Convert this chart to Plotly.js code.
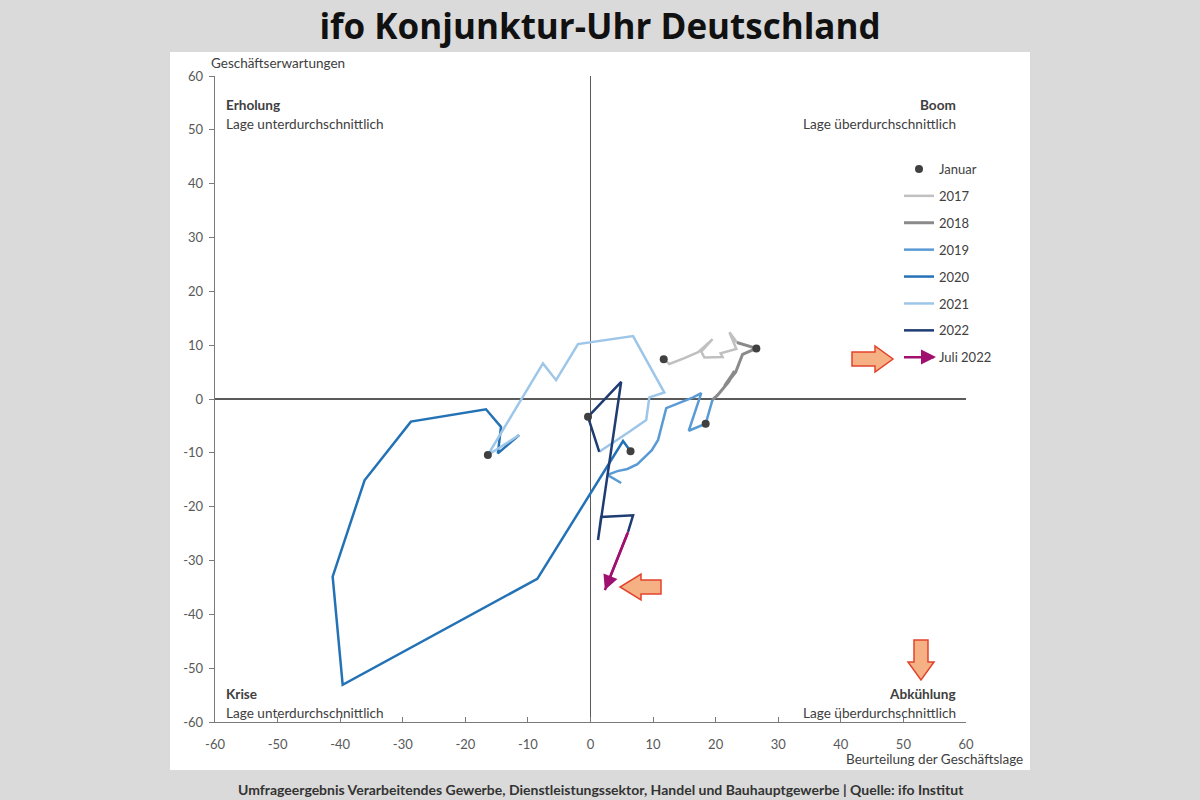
<!DOCTYPE html>
<html><head><meta charset="utf-8">
<script src="https://cdn.plot.ly/plotly-3.0.1.min.js"></script>
<style>html,body{margin:0;padding:0;background:#dadada;} #chart{width:1200px;height:800px;}</style>
</head><body><div id="chart"></div>
<script>
// ---------- DATA (Geschäftslage = x, Geschäftserwartungen = y), monthly, starting January ----------
const years = ['2017', '2018', '2019', '2020', '2021', '2022'];
const lage2017 = [11.7, 12.6, 15.0, 17.2, 19.5, 17.7, 18.2, 21.1, 20.8, 23.3, 22.2, 23.4];
const erw2017  = [7.4, 6.5, 7.6, 8.7, 11.1, 8.8, 7.7, 7.8, 8.5, 9.3, 12.4, 10.5];
const lage2018 = [26.5, 24.3, 23.8, 23.2, 22.2, 21.4, 22.4, 23.0, 22.1, 20.9, 20.3, 19.5];
const erw2018  = [9.4, 8.3, 6.9, 5.0, 3.5, 2.4, 4.1, 5.2, 3.2, 1.5, 0.7, -0.1];
const lage2019 = [18.4, 15.7, 17.7, 16.4, 12.1, 10.8, 9.8, 7.5, 5.9, 4.3, 2.7, 4.9];
const erw2019  = [-4.6, -5.9, 1.1, 0.3, -1.7, -7.6, -9.5, -12.1, -13.0, -13.4, -14.1, -15.6];
const lage2020 = [6.4, 5.2, -8.5, -39.6, -41.2, -36.1, -28.7, -16.7, -14.3, -14.5, -14.8, -11.4];
const erw2020  = [-9.7, -7.8, -33.4, -53.1, -33.0, -15.1, -4.2, -1.9, -5.2, -7.6, -10.1, -6.7];
const lage2021 = [-16.4, -11.9, -7.6, -5.5, -2.0, 6.8, 11.8, 9.4, 8.9, 6.2, 3.8, 1.4];
const erw2021  = [-10.4, -1.7, 6.6, 3.5, 10.2, 11.7, 1.2, 0.3, -3.9, -6.1, -8.0, -9.8];
const lage2022 = [-0.4, 4.9, 1.2, 1.7, 6.8, 6.0];
const erw2022  = [-3.3, 3.2, -26.2, -21.9, -21.6, -24.7];
const lageJuli2022 = [2.3];
const erwJuli2022  = [-35.5];
// whether a year's line starts from the previous year's December value
const joinPrev = [false, true, true, false, true, true];

const axisTicks = [-60, -50, -40, -30, -20, -10, 0, 10, 20, 30, 40, 50, 60];

// ---------- STYLE ----------
const lageByYear = [lage2017, lage2018, lage2019, lage2020, lage2021, lage2022];
const erwByYear  = [erw2017, erw2018, erw2019, erw2020, erw2021, erw2022];
const yearColors = ['#c0c0c0', '#8a8a8a', '#5b9bd5', '#2372b6', '#9dc6e8', '#1f3d73'];
const yearWidths = [2.5, 3, 2.5, 2.5, 2.5, 2.5];
const juliColor = '#a0106f';
const FONT = 'Lato, "Open Sans", sans-serif';

// pixel -> paper helpers (plot area: x 215..966, y 76..722)
const PL = 215, PR = 966, PT = 76, PB = 722;
const px = v => (v - PL) / (PR - PL);
const py = v => (PB - v) / (PB - PT);

const traces = [];
years.forEach((yr, i) => {
  let xs = lageByYear[i].slice(), ys = erwByYear[i].slice();
  if (joinPrev[i] && i > 0) {
    const px_ = lageByYear[i - 1], py_ = erwByYear[i - 1];
    xs.unshift(px_[px_.length - 1]); ys.unshift(py_[py_.length - 1]);
  }
  traces.push({
    x: xs, y: ys, type: 'scatter', mode: 'lines', name: yr,
    line: {color: yearColors[i], width: yearWidths[i]},
    legendgroup: 'g' + yr, legendrank: 2 + i, hoverinfo: 'skip'
  });
});
// Juli 2022 segment
traces.push({
  x: [lage2022[lage2022.length - 1]].concat(lageJuli2022),
  y: [erw2022[erw2022.length - 1]].concat(erwJuli2022),
  type: 'scatter', mode: 'lines', name: 'Juli 2022',
  line: {color: juliColor, width: 2.5},
  legendgroup: 'gjuli', legendrank: 9, hoverinfo: 'skip'
});
// January dots
traces.push({
  x: lageByYear.map(a => a[0]), y: erwByYear.map(a => a[0]),
  type: 'scatter', mode: 'markers', name: 'Januar',
  marker: {color: '#404040', size: 8},
  legendgroup: 'gjan', legendrank: 1, hoverinfo: 'skip'
});

function arrowPath(pts) {
  return 'M ' + pts.map(p => px(p[0]).toFixed(5) + ',' + py(p[1]).toFixed(5)).join(' L ') + ' Z';
}
const arrowStyle = {type: 'path', xref: 'paper', yref: 'paper', fillcolor: '#f5b183', line: {color: '#e2432d', width: 1.5}, layer: 'above'};

const labelFont = {family: FONT, size: 13.6, color: '#404040'};
const ann = (text, x, y, xanchor, extra) => Object.assign({
  text, xref: 'paper', yref: 'paper', x: px(x), y: py(y), xanchor, yanchor: 'middle',
  showarrow: false, font: labelFont
}, extra || {});

const lastJun = [lage2022[lage2022.length - 1], erw2022[erw2022.length - 1]];

const layout = {
  width: 1200, height: 800, autosize: false,
  paper_bgcolor: '#dadada', plot_bgcolor: '#ffffff',
  margin: {l: PL, r: 1200 - PR, t: PT, b: 800 - PB, pad: 0},
  title: {
    text: '<b>ifo Konjunktur-Uhr Deutschland</b>',
    font: {family: '"Open Sans", sans-serif', size: 35, color: '#111111'},
    x: 0.5, xref: 'container', xanchor: 'center',
    y: 1 - 27 / 800, yref: 'container', yanchor: 'middle'
  },
  xaxis: {
    range: [-60, 60], tickvals: axisTicks, ticktext: axisTicks.map(String),
    showgrid: false, zeroline: true, zerolinecolor: '#5a5a5a', zerolinewidth: 1.3,
    showline: true, linecolor: '#7a7a7a', linewidth: 1.3, mirror: false,
    ticks: 'inside', ticklen: 5, tickcolor: '#7a7a7a', ticklabelstandoff: 10,
    tickfont: {family: FONT, size: 13, color: '#595959'}, fixedrange: true
  },
  yaxis: {
    range: [-60, 60], tickvals: axisTicks, ticktext: axisTicks.map(String),
    showgrid: false, zeroline: true, zerolinecolor: '#5a5a5a', zerolinewidth: 1.3,
    showline: true, linecolor: '#7a7a7a', linewidth: 1.3,
    ticks: 'outside', ticklen: 5, tickcolor: '#7a7a7a', ticklabelstandoff: 3,
    tickfont: {family: FONT, size: 13, color: '#595959'}, fixedrange: true
  },
  showlegend: true,
  legend: {
    x: px(899), y: py(154), xanchor: 'left', yanchor: 'top',
    bgcolor: 'rgba(0,0,0,0)', font: {family: FONT, size: 13, color: '#404040'},
    tracegroupgap: 7, itemwidth: 30, traceorder: 'grouped'
  },
  shapes: [
    {type: 'rect', xref: 'paper', yref: 'paper', x0: px(170), x1: px(1030), y0: py(52), y1: py(770),
     fillcolor: '#ffffff', line: {width: 0}, layer: 'below'},
    Object.assign({path: arrowPath([[852,352],[875,352],[875,346],[893,359],[875,372],[875,366],[852,366]])}, arrowStyle),
    Object.assign({path: arrowPath([[661,580],[641,580],[641,574],[620,587],[641,600],[641,594],[661,594]])}, arrowStyle),
    Object.assign({path: arrowPath([[914,640],[928,640],[928,662],[934,662],[921,680],[908,662],[914,662]])}, arrowStyle)
  ],
  annotations: [
    ann('Geschäftserwartungen', 209, 63, 'left', {font: {family: FONT, size: 13.5, color: '#404040'}}),
    ann('Beurteilung der Geschäftslage', 1025, 759, 'right', {font: {family: FONT, size: 13.5, color: '#404040'}}),
    ann('<b>Erholung</b>', 224, 105, 'left'),
    ann('Lage unterdurchschnittlich', 224, 124, 'left'),
    ann('<b>Boom</b>', 958, 105, 'right'),
    ann('Lage überdurchschnittlich', 958, 124, 'right'),
    ann('<b>Krise</b>', 224, 694, 'left'),
    ann('Lage unterdurchschnittlich', 224, 713, 'left'),
    ann('<b>Abkühlung</b>', 958, 694, 'right'),
    ann('Lage überdurchschnittlich', 958, 713, 'right'),
    ann('<b>Umfrageergebnis Verarbeitendes Gewerbe, Dienstleistungssektor, Handel und Bauhauptgewerbe | Quelle: ifo Institut</b>',
        601, 789, 'center', {font: {family: FONT, size: 14, color: '#333333'}}),
    // arrow head for Juli 2022 (data coordinates)
    {x: lageJuli2022[0], y: erwJuli2022[0], ax: lastJun[0], ay: lastJun[1], xref: 'x', yref: 'y', axref: 'x', ayref: 'y',
     text: '', showarrow: true, arrowhead: 2, arrowsize: 1.2, arrowwidth: 2.5, arrowcolor: juliColor, standoff: 0},
    // arrow head on legend sample for Juli 2022
    {x: px(936), y: py(357), xref: 'paper', yref: 'paper', ax: -14, ay: 0,
     text: '', showarrow: true, arrowhead: 2, arrowsize: 1.2, arrowwidth: 2.5, arrowcolor: juliColor, standoff: 0}
  ]
};

Plotly.newPlot('chart', traces, layout, {staticPlot: true, displayModeBar: false});
</script>
</body></html>
